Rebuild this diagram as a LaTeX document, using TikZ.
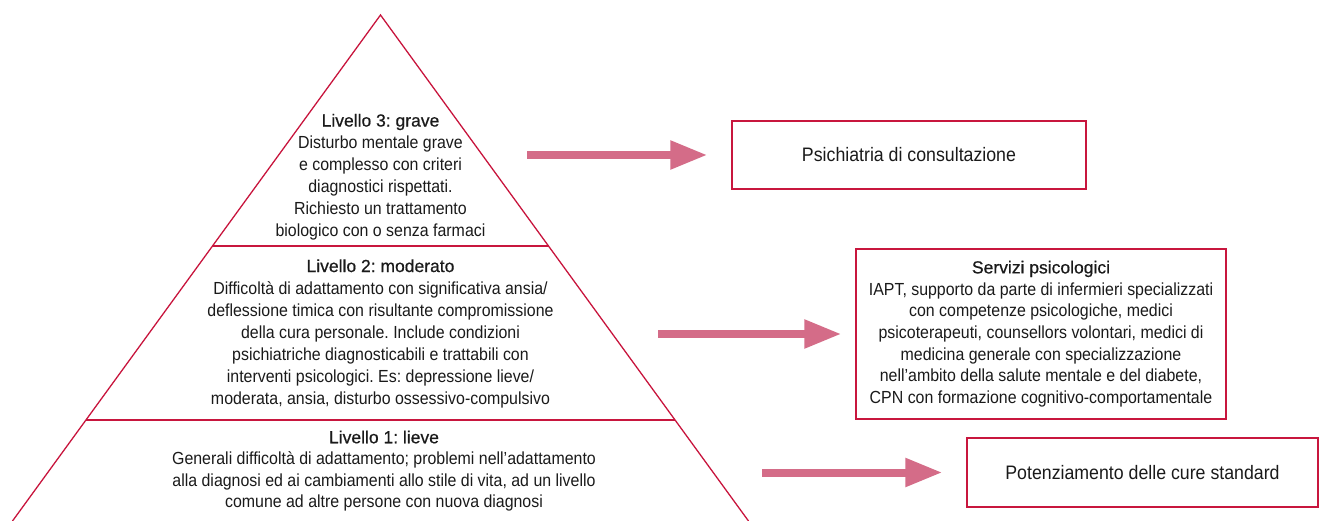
\documentclass[tikz,border=0pt]{standalone}
\usepackage{fontspec}
\setmainfont[FakeStretch=0.91]{Liberation Sans}
\newfontfamily\ttlfont[FakeBold=0.6]{Liberation Sans}
\usetikzlibrary{arrows.meta,calc}
\definecolor{crim}{RGB}{200,22,62}
\definecolor{arrpink}{RGB}{212,108,136}
\definecolor{txt}{RGB}{26,26,26}
\frenchspacing
\begin{document}
\begin{tikzpicture}[x=1pt,y=-1pt,
  pyr/.style={draw=crim, line width=1.3pt},
  lvl/.style={text=txt, align=center, inner sep=0pt, font=\fontsize{17.5}{22}\selectfont},
  box/.style={draw=crim, line width=1.2pt, text=txt, align=center, inner sep=0pt},
  bigarrow/.style={draw=arrpink, line width=8pt, -{Triangle[length=37pt,width=27pt]}}]
\useasboundingbox (0,0) rectangle (1320,521);
% pyramid
\coordinate (apex) at (380.5,15);
\coordinate (bl) at (12.5,521);
\coordinate (br) at (748.5,521);
\draw[pyr] (bl) -- (apex) -- (br);
\draw[pyr] ($(apex)!0.4565!(bl)$) -- ($(apex)!0.4565!(br)$);
\draw[pyr] ($(apex)!0.8004!(bl)$) -- ($(apex)!0.8004!(br)$);
% level texts
\node[lvl] (l3) at (380.5,177) {{\ttlfont Livello 3: grave}\\Disturbo mentale grave\\e complesso con criteri\\diagnostici rispettati.\\Richiesto un trattamento\\biologico con o senza farmaci};
\node[lvl] (l2) at (380.5,333.5) {{\ttlfont Livello 2: moderato}\\Difficoltà di adattamento con significativa ansia/\\deflessione timica con risultante compromissione\\della cura personale. Include condizioni\\psichiatriche diagnosticabili e trattabili con\\interventi psicologici. Es: depressione lieve/\\moderata, ansia, disturbo ossessivo-compulsivo};
\node[lvl, font=\fontsize{17.5}{21.5}\selectfont] (l1) at (384,471) {{\ttlfont Livello 1: lieve}\\Generali difficoltà di adattamento; problemi nell’adattamento\\alla diagnosi ed ai cambiamenti allo stile di vita, ad un livello\\comune ad altre persone con nuova diagnosi};
% boxes
\node[box, minimum width=354pt, minimum height=68pt, font=\fontsize{19.5}{24}\selectfont] (b1) at (909,155) {Psichiatria di consultazione};
\node[box, minimum width=370pt, minimum height=170pt, font=\fontsize{17.5}{21.7}\selectfont] (b2) at (1041,334) {{\ttlfont Servizi psicologici}\\IAPT, supporto da parte di infermieri specializzati\\con competenze psicologiche, medici\\psicoterapeuti, counsellors volontari, medici di\\medicina generale con specializzazione\\nell’ambito della salute mentale e del diabete,\\CPN con formazione cognitivo-comportamentale};
\node[box, minimum width=351pt, minimum height=69pt, font=\fontsize{19.5}{24}\selectfont] (b3) at (1142.5,472.5) {Potenziamento delle cure standard};
% arrows
\coordinate (a1) at (527,155);
\coordinate (a2) at (658,334);
\coordinate (a3) at (762,472.5);
\draw[bigarrow, shorten >=24pt] (a1) -- (b1.west);
\draw[bigarrow, shorten >=14pt] (a2) -- (b2.west);
\draw[bigarrow, shorten >=24pt] (a3) -- (b3.west);
\end{tikzpicture}
\end{document}
